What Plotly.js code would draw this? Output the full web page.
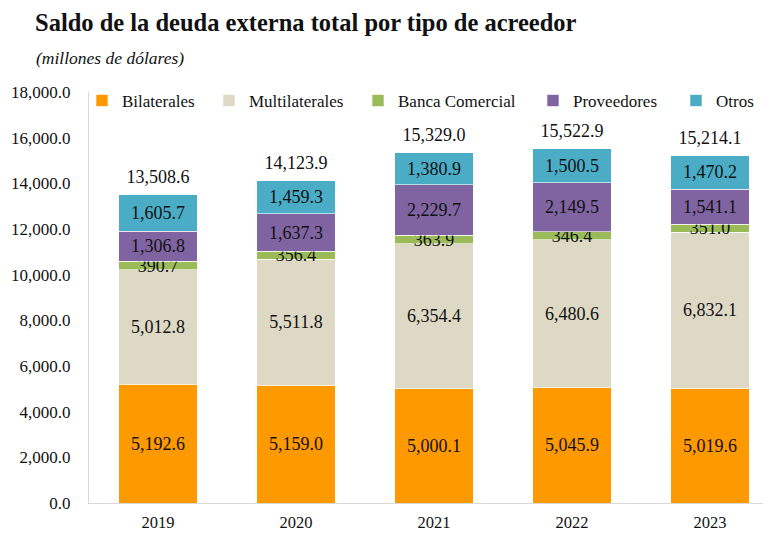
<!DOCTYPE html>
<html>
<head>
<meta charset="utf-8">
<script src="https://cdn.plot.ly/plotly-3.0.1.min.js"></script>
<style>html,body{margin:0;padding:0;background:#fff;}#chart{width:763px;height:533px;}</style>
</head>
<body>
<div id="chart"></div>
<script>
const years = ['2019', '2020', '2021', '2022', '2023'];
const bilaterales = [5192.6, 5159.0, 5000.1, 5045.9, 5019.6];
const multilaterales = [5012.8, 5511.8, 6354.4, 6480.6, 6832.1];
const bancaComercial = [390.7, 356.4, 363.9, 346.4, 351.0];
const proveedores = [1306.8, 1637.3, 2229.7, 2149.5, 1541.1];
const otros = [1605.7, 1459.3, 1380.9, 1500.5, 1470.2];
const totales = [13508.6, 14123.9, 15329.0, 15522.9, 15214.1];
const seriesNames = ['Bilaterales', 'Multilaterales', 'Banca Comercial', 'Proveedores', 'Otros'];
const yTicks = [0, 2000, 4000, 6000, 8000, 10000, 12000, 14000, 16000, 18000];

const FONT = 'Liberation Serif, Times New Roman, serif';
const colors = ['#FF9900', '#DDD9C4', '#9BBB59', '#8064A2', '#4BACC6'];
const seriesData = [bilaterales, multilaterales, bancaComercial, proveedores, otros];
const legendIds = ['legend', 'legend2', 'legend3', 'legend4', 'legend5'];
// left edge (px) of each legend swatch in the picture
const legendLeftPx = [96, 223, 372, 547, 690];

const PLOT_L = 89, PLOT_W = 674, PLOT_T = 92, PLOT_H = 411;

const traces = seriesData.map((vals, i) => ({
  type: 'bar',
  name: seriesNames[i],
  legend: legendIds[i],
  x: years,
  y: vals,
  marker: {color: colors[i], line: {color: '#ffffff', width: 0.6}},
  texttemplate: '%{y:,.1f}',
  textposition: 'inside',
  insidetextanchor: 'middle',
  textangle: 0,
  constraintext: 'none',
  textfont: {family: FONT, size: 18, color: '#111'},
  hoverinfo: 'skip'
}));

traces.push({
  type: 'scatter',
  mode: 'markers+text',
  x: years,
  y: totales,
  marker: {size: 10, color: 'rgba(0,0,0,0)'},
  texttemplate: '%{y:,.1f}',
  textposition: 'top center',
  textfont: {family: FONT, size: 18, color: '#111'},
  showlegend: false,
  hoverinfo: 'skip',
  cliponaxis: false
});

const layout = {
  width: 763,
  height: 533,
  margin: {l: PLOT_L, r: 0, t: PLOT_T, b: 30},
  paper_bgcolor: '#ffffff',
  plot_bgcolor: '#ffffff',
  barmode: 'stack',
  bargap: 0.43,
  font: {family: FONT, size: 17, color: '#111'},
  title: {
    text: '<b>Saldo de la deuda externa total por tipo de acreedor</b>',
    font: {family: FONT, size: 24.5, color: '#111'},
    x: 35 / 763, xanchor: 'left', xref: 'container',
    y: 1 - 22 / 533, yanchor: 'middle', yref: 'container'
  },
  annotations: [{
    text: '<i>(millones de dólares)</i>',
    xref: 'paper', yref: 'paper',
    x: (34 - PLOT_L) / PLOT_W, xanchor: 'left',
    y: (PLOT_T + PLOT_H - 58) / PLOT_H, yanchor: 'middle',
    showarrow: false,
    font: {family: FONT, size: 17.5, color: '#111'}
  }],
  xaxis: {
    type: 'category',
    range: [-0.5, 4.384],
    showline: true, linecolor: '#D9D9D9', linewidth: 1,
    showgrid: false, zeroline: false,
    ticks: '', ticklabelstandoff: 4,
    tickfont: {family: FONT, size: 16.5, color: '#111'}
  },
  yaxis: {
    range: [0, 18000],
    tickvals: yTicks,
    tickformat: ',.1f',
    showline: true, linecolor: '#D9D9D9', linewidth: 1,
    showgrid: false, zeroline: false,
    ticks: '', ticklabelstandoff: 14,
    tickfont: {family: FONT, size: 17, color: '#111'}
  },
  showlegend: true,
  hovermode: false
};

legendIds.forEach((id, i) => {
  layout[id] = {
    orientation: 'h',
    x: (legendLeftPx[i] - 14 - PLOT_L) / PLOT_W, xanchor: 'left',
    y: 1.022, yanchor: 'top',
    bgcolor: 'rgba(0,0,0,0)',
    font: {family: FONT, size: 17, color: '#111'}
  };
});

Plotly.newPlot('chart', traces, layout, {displayModeBar: false, staticPlot: true});
</script>
</body>
</html>
